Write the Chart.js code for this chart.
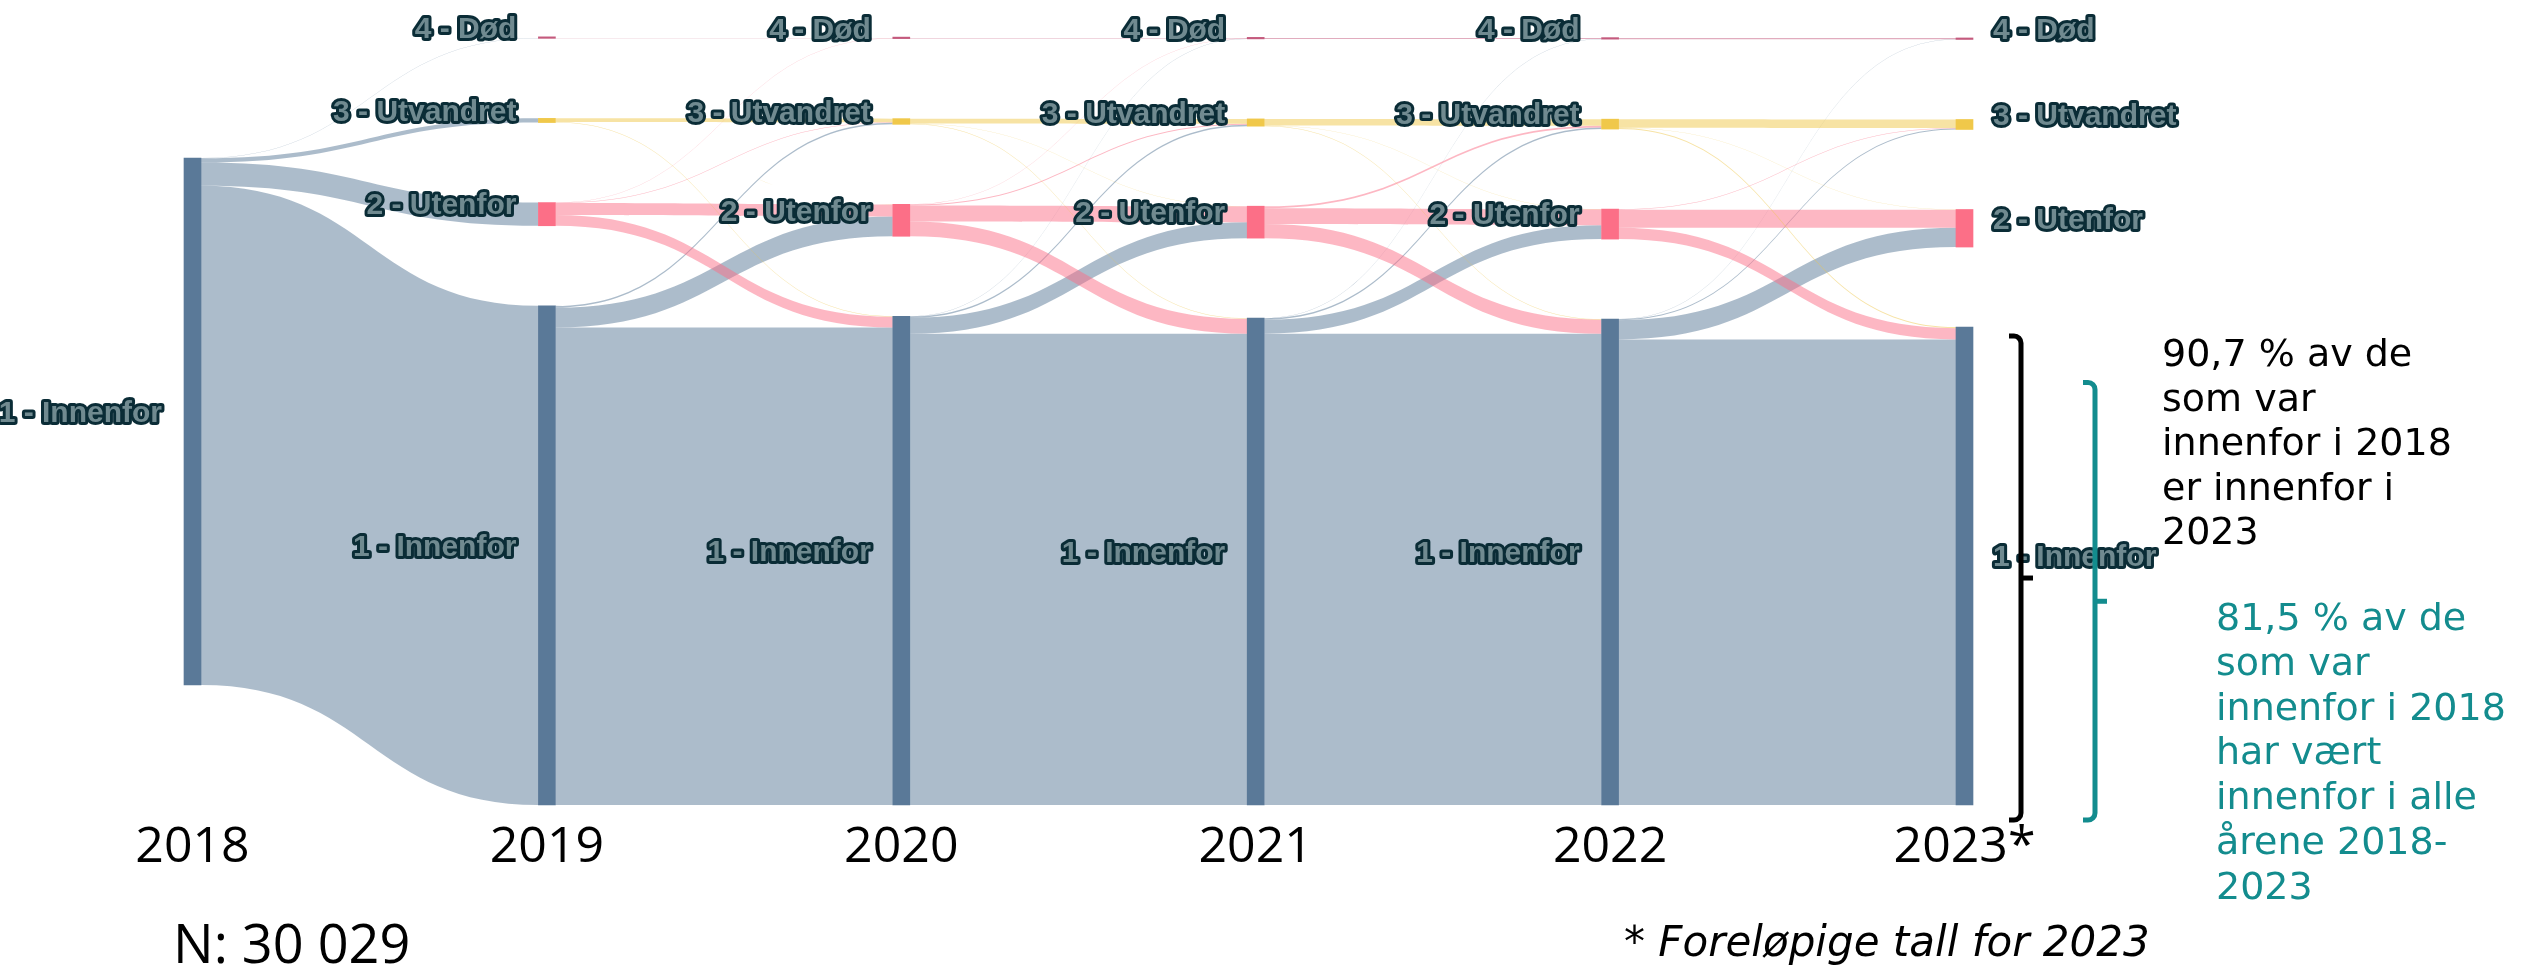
<!DOCTYPE html>
<html>
<head>
<meta charset="utf-8">
<title>Innenfor 2018–2023</title>
<script src="https://cdn.jsdelivr.net/npm/chart.js@4.4.1/dist/chart.umd.min.js"></script>
<style>
  html, body { margin: 0; padding: 0; background: #ffffff; }
  #wrap { width: 2524px; height: 966px; position: relative; }
</style>
</head>
<body>
<div id="wrap"><canvas id="chart" width="2524" height="966"></canvas></div>
<script>
// ---- data -----------------------------------------------------------------
const YEARS = ['2018', '2019', '2020', '2021', '2022', '2023*'];
const STATES = ['1 - Innenfor', '2 - Utenfor', '3 - Utvandret', '4 - Død'];
const N_TOTAL = 30029;

// Transitions between consecutive years.
// Rows: status in year t, columns: status in year t+1 (Innenfor, Utenfor, Utvandret, Død)
const FLOW_2018_2019 = [[28450, 1320, 239, 20], [0, 0, 0, 0], [0, 0, 0, 0], [0, 0, 0, 0]];
const FLOW_2019_2020 = [[27215, 1130, 95, 10], [610, 680, 25, 5], [25, 9, 205, 0], [0, 0, 0, 20]];
const FLOW_2020_2021 = [[26859, 900, 85, 6], [845, 910, 55, 9], [40, 10, 275, 0], [0, 0, 0, 35]];
const FLOW_2021_2022 = [[26859, 790, 90, 5], [800, 910, 100, 10], [30, 10, 375, 0], [0, 0, 0, 50]];
const FLOW_2022_2023 = [[26531, 1100, 50, 8], [640, 1030, 30, 10], [65, 10, 490, 0], [0, 0, 0, 65]];

const SHARE_INNENFOR_2023 = 90.7;      // % of those innenfor in 2018 who are innenfor in 2023
const SHARE_INNENFOR_ALL_YEARS = 81.5; // % innenfor in every year 2018-2023

// ---- layout / style -------------------------------------------------------
const TRANSITIONS = [FLOW_2018_2019, FLOW_2019_2020, FLOW_2020_2021, FLOW_2021_2022, FLOW_2022_2023];
const NODE_GAP = 4560;                 // vertical padding between nodes, in persons
const Y_MAX = N_TOTAL + 3 * NODE_GAP;
const NODE_W = 17;
const TOP_ORDER = [3, 2, 1, 0];        // order of nodes from top to bottom
const NODE_COLORS = ['rgb(90,121,152)', 'rgb(252,111,135)', 'rgb(240,200,74)', 'rgb(196,90,125)'];
const LINK_COLORS = ['rgba(90,121,152,0.5)', 'rgba(252,111,135,0.5)', 'rgba(240,200,74,0.5)', 'rgba(196,90,125,0.5)'];

// node sizes per year: 2018 from row sums, later years from column sums
const sum = a => a.reduce((p, q) => p + q, 0);
const NODE_VALUES = [FLOW_2018_2019.map(row => sum(row))]
  .concat(TRANSITIONS.map(F => [0, 1, 2, 3].map(t => sum(F.map(row => row[t])))));

// stack nodes from the bottom (Innenfor lowest), centre each column
const NODE_RANGES = NODE_VALUES.map(vals => {
  const present = [0, 1, 2, 3].filter(i => vals[i] > 0);
  const total = sum(present.map(i => vals[i])) + NODE_GAP * (present.length - 1);
  let lo = (Y_MAX - total) / 2;
  const r = [null, null, null, null];
  present.forEach(i => { r[i] = [lo, lo + vals[i]]; lo += vals[i] + NODE_GAP; });
  return r;
});

// ---- plugins ---------------------------------------------------------------
const flowPlugin = {
  id: 'flows',
  beforeDatasetsDraw(chart) {
    const { ctx, scales: { x, y } } = chart;
    ctx.save();
    TRANSITIONS.forEach((F, c) => {
      const a = NODE_RANGES[c], b = NODE_RANGES[c + 1];
      const x0 = x.getPixelForValue(c) + NODE_W / 2;
      const x1 = x.getPixelForValue(c + 1) - NODE_W / 2;
      const xm = (x0 + x1) / 2;
      [0, 1, 2, 3].forEach(s => {
        TOP_ORDER.forEach(t => {
          const v = F[s][t];
          if (!v) return;
          let sTop = a[s][1];
          for (const t2 of TOP_ORDER) { if (t2 === t) break; sTop -= F[s][t2]; }
          let tTop = b[t][1];
          for (const s2 of TOP_ORDER) { if (s2 === s) break; tTop -= F[s2][t]; }
          const ys0 = y.getPixelForValue(sTop), ys1 = y.getPixelForValue(sTop - v);
          const yt0 = y.getPixelForValue(tTop), yt1 = y.getPixelForValue(tTop - v);
          ctx.beginPath();
          ctx.moveTo(x0, ys0);
          ctx.bezierCurveTo(xm, ys0, xm, yt0, x1, yt0);
          ctx.lineTo(x1, yt1);
          ctx.bezierCurveTo(xm, yt1, xm, ys1, x0, ys1);
          ctx.closePath();
          ctx.fillStyle = LINK_COLORS[s];
          ctx.fill();
        });
      });
    });
    ctx.restore();
  }
};

const labelPlugin = {
  id: 'nodeLabels',
  afterDatasetsDraw(chart) {
    const { ctx, scales: { x, y } } = chart;
    const last = YEARS.length - 1;
    ctx.save();
    ctx.font = 'bold 30px "Liberation Sans", Arial, sans-serif';
    ctx.textBaseline = 'middle';
    ctx.lineJoin = 'round';
    ctx.lineWidth = 6;
    NODE_RANGES.forEach((ranges, c) => {
      const cx = x.getPixelForValue(c);
      ranges.forEach((r, s) => {
        if (!r) return;
        const yc = y.getPixelForValue((r[0] + r[1]) / 2) - 8;
        let tx;
        if (c === last) { ctx.textAlign = 'left'; tx = cx + NODE_W / 2 + 20; }
        else { ctx.textAlign = 'right'; tx = cx - NODE_W / 2 - 22; }
        ctx.strokeStyle = 'rgb(10,44,54)';
        ctx.strokeText(STATES[s], tx, yc);
        ctx.fillStyle = 'rgb(112,138,144)';
        ctx.fillText(STATES[s], tx, yc);
      });
    });
    ctx.restore();
  }
};

function drawBracket(ctx, xLine, yTop, yBot, color) {
  const r = 7, arm = 12, yMid = (yTop + yBot) / 2;
  ctx.strokeStyle = color;
  ctx.lineWidth = 5;
  ctx.lineCap = 'butt';
  ctx.beginPath();
  ctx.moveTo(xLine - arm, yTop);
  ctx.arcTo(xLine, yTop, xLine, yTop + 2 * r, r);
  ctx.lineTo(xLine, yBot - 2 * r);
  ctx.arcTo(xLine, yBot, xLine - arm, yBot, r);
  ctx.lineTo(xLine - arm, yBot);
  ctx.stroke();
  ctx.beginPath();
  ctx.moveTo(xLine, yMid);
  ctx.lineTo(xLine + arm, yMid);
  ctx.stroke();
}

const annotationPlugin = {
  id: 'annotations',
  afterDraw(chart) {
    const { ctx, scales: { y } } = chart;
    const inn2023 = NODE_VALUES[NODE_VALUES.length - 1][0];
    const allYears = N_TOTAL * SHARE_INNENFOR_ALL_YEARS / 100;
    const bottom = y.getPixelForValue(0) + 15;
    ctx.save();
    drawBracket(ctx, 2021, y.getPixelForValue(inn2023) + 9, bottom, '#000000');
    drawBracket(ctx, 2095, y.getPixelForValue(allYears) + 7, bottom, '#138c8e');

    const fmt = v => String(v).replace('.', ',');
    ctx.textAlign = 'left';
    ctx.textBaseline = 'alphabetic';
    ctx.font = '38px "DejaVu Sans", Verdana, sans-serif';
    ctx.fillStyle = '#000000';
    [fmt(SHARE_INNENFOR_2023) + ' % av de', 'som var', 'innenfor i 2018', 'er innenfor i', '2023']
      .forEach((line, i) => ctx.fillText(line, 2162, 366 + i * 44.5));
    ctx.fillStyle = '#138c8e';
    [fmt(SHARE_INNENFOR_ALL_YEARS) + ' % av de', 'som var', 'innenfor i 2018', 'har vært', 'innenfor i alle', 'årene 2018-', '2023']
      .forEach((line, i) => ctx.fillText(line, 2216, 630 + i * 44.8));

    ctx.fillStyle = '#000000';
    ctx.font = 'italic 42px "DejaVu Sans", Verdana, sans-serif';
    ctx.fillText('* Foreløpige tall for 2023', 1624, 956);

    ctx.font = '54px "Open Sans", "Noto Sans", sans-serif';
    const nText = 'N: ' + String(N_TOTAL).replace(/\B(?=(\d{3})+(?!\d))/g, ' ');
    ctx.fillText(nText, 173, 963);
    ctx.restore();
  }
};

// ---- chart -----------------------------------------------------------------
const datasets = STATES.map((name, s) => ({
  label: name,
  data: NODE_RANGES.map(r => (r[s] ? r[s] : null)),
  backgroundColor: NODE_COLORS[s],
  borderWidth: 0,
  barThickness: NODE_W,
  grouped: false,
  clip: false,
  minBarLength: s === 3 ? 1.5 : 0
}));

new Chart(document.getElementById('chart'), {
  type: 'bar',
  data: { labels: YEARS, datasets },
  options: {
    responsive: false,
    animation: false,
    devicePixelRatio: 1,
    layout: { padding: { left: 192.5, right: 559.5, top: 38, bottom: 88 } },
    plugins: { legend: { display: false }, tooltip: { enabled: false } },
    scales: {
      x: {
        type: 'category',
        offset: false,
        grid: { display: false, drawTicks: false },
        border: { display: false },
        ticks: {
          color: '#000000',
          font: { family: '"Open Sans", "Noto Sans", sans-serif', size: 50 },
          padding: 13,
          maxRotation: 0,
          autoSkip: false
        },
        afterFit: s => { s.height = 73; }
      },
      y: { display: false, min: 0, max: Y_MAX }
    }
  },
  plugins: [flowPlugin, labelPlugin, annotationPlugin]
});
</script>
</body>
</html>
